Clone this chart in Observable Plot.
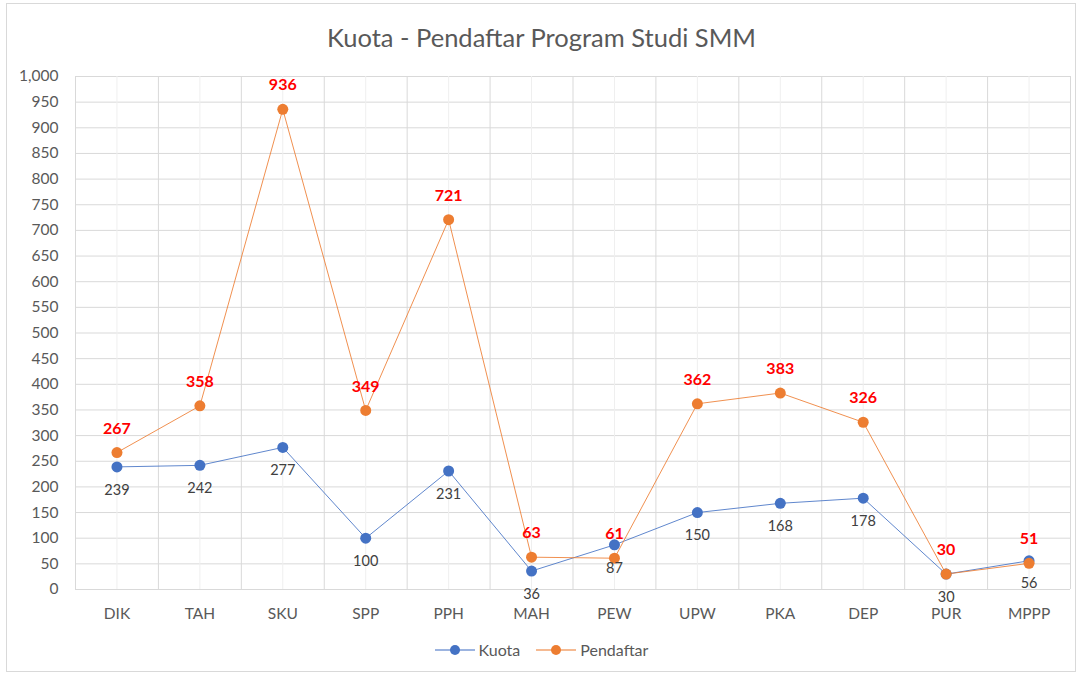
<!DOCTYPE html>
<html><head><meta charset="utf-8">
<script src="https://cdn.jsdelivr.net/npm/d3@7"></script>
<script src="https://cdn.jsdelivr.net/npm/@observablehq/plot@0.6"></script>
<style>
body{margin:0;background:#fff;font-family:Lato,"Open Sans",sans-serif;}
#wrap{position:relative;width:1083px;height:677px;}
#frame{position:absolute;left:6px;top:3px;width:1070px;height:669px;border:1px solid #d9d9d9;box-sizing:border-box;pointer-events:none;}
#title{position:absolute;left:0;top:0;width:1083px;height:60px;line-height:74px;text-align:center;font-size:25.5px;color:#595959;}
#chart{position:absolute;left:0;top:60px;}
#legend{position:absolute;left:0;top:640px;width:1083px;text-align:center;font-size:16px;color:#595959;}
.li{display:inline-flex;align-items:center;margin:0 8px;}
.li svg{margin-right:4px;}
</style></head>
<body><div id="wrap"><div id="frame"></div><div id="title">Kuota - Pendaftar Program Studi SMM</div><div id="chart"></div><div id="legend"></div></div>
<script>
const categories = ["DIK","TAH","SKU","SPP","PPH","MAH","PEW","UPW","PKA","DEP","PUR","MPPP"];
const kuota = [239,242,277,100,231,36,87,150,168,178,30,56];
const pendaftar = [267,358,936,349,721,63,61,362,383,326,30,51];
const yTicks = d3.range(0,1001,50);
const blue = "#4472C4", orange = "#ED7D31";

const idx = categories.map((c,i)=>i);
const kData = idx.map(i=>({i, v:kuota[i]}));
const pData = idx.map(i=>({i, v:pendaftar[i]}));
const bounds = d3.range(-0.5, categories.length, 1);

const plot = Plot.plot({
  width:1083, height:570,
  marginLeft:75, marginRight:13, marginTop:16, marginBottom:41,
  style:{fontFamily:"Lato, 'Open Sans', sans-serif", fontSize:"14px", color:"#595959", background:"transparent"},
  x:{type:"linear", domain:[-0.5, categories.length-0.5], ticks:idx, tickFormat:i=>categories[i], tickSize:0, tickPadding:18, label:null},
  y:{domain:[0,1000], ticks:yTicks, tickFormat:d3.format(","), tickSize:0, tickPadding:17, label:null},
  marks:[
    Plot.ruleY(yTicks,{stroke:"#d9d9d9", strokeWidth:1}),
    Plot.ruleX(idx,{stroke:"#efefef", strokeWidth:1}),
    Plot.ruleX(bounds,{stroke:"#d9d9d9", strokeWidth:1}),
    Plot.axisX({ticks:idx, tickFormat:i=>categories[i], tickSize:0, tickPadding:18, fontSize:15.5, fill:"#595959"}),
    Plot.axisY({ticks:yTicks, tickFormat:d3.format(","), tickSize:0, tickPadding:17, fontSize:15.5, fill:"#595959"}),
    Plot.line(kData,{x:"i", y:"v", stroke:blue, strokeWidth:1, strokeOpacity:0.85}),
    Plot.line(pData,{x:"i", y:"v", stroke:orange, strokeWidth:1, strokeOpacity:0.85}),
    Plot.dot(kData,{x:"i", y:"v", r:5.5, fill:blue}),
    Plot.dot(pData,{x:"i", y:"v", r:5.5, fill:orange}),
    Plot.text(kData,{x:"i", y:"v", text:d=>String(d.v), dy:23, fill:"#404040", fontSize:14.5}),
    Plot.text(pData,{x:"i", y:"v", text:d=>String(d.v), dy:-24, fill:"#ff0000", fontSize:16, fontWeight:"bold"})
  ]
});
document.getElementById("chart").appendChild(plot);

const leg = document.getElementById("legend");
[["Kuota",blue],["Pendaftar",orange]].forEach(([name,col])=>{
  const s = document.createElement("span"); s.className="li";
  s.innerHTML = `<svg width="40" height="14"><line x1="0" x2="40" y1="7" y2="7" stroke="${col}" stroke-width="1.5" opacity="0.7"/><circle cx="20" cy="7" r="5" fill="${col}"/></svg>${name}`;
  leg.appendChild(s);
});
</script></body></html>
